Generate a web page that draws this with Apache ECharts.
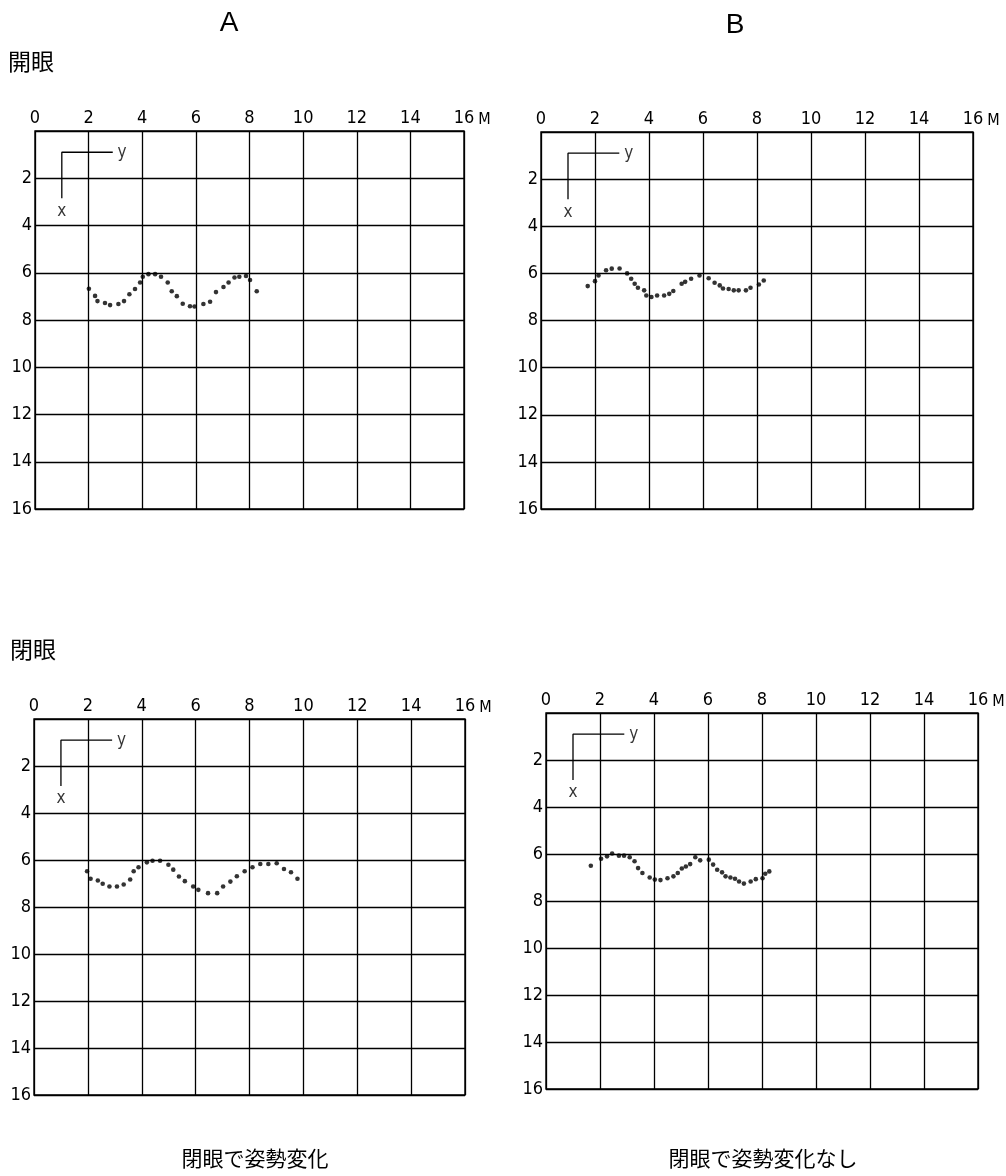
<!DOCTYPE html>
<html>
<head>
<meta charset="utf-8">
<script src="https://cdn.jsdelivr.net/npm/echarts@6/dist/echarts.min.js"></script>
<style>
  html, body { margin: 0; padding: 0; background: #fff; }
  #chart { width: 1006px; height: 1176px; }
</style>
</head>
<body>
<div id="chart"></div>
<script>
// distance axis ticks (M) and panel titles
const axisMin = 0;
const axisMax = 16;
const axisStep = 2;
const columnTitles = ['A', 'B'];
const rowTitles = ['開眼', '閉眼'];
const captions = ['閉眼で姿勢変化', '閉眼で姿勢変化なし'];

// traced dot paths [horizontal, vertical]
const aOpen = [[2.01,6.68],[2.24,6.98],[2.33,7.20],[2.61,7.28],[2.80,7.37],[3.11,7.32],[3.32,7.20],[3.52,6.91],[3.73,6.69],[3.92,6.41],[4.02,6.17],[4.23,6.06],[4.48,6.06],[4.70,6.17],[4.95,6.41],[5.10,6.78],[5.29,6.99],[5.51,7.31],[5.78,7.42],[5.95,7.43],[6.28,7.32],[6.53,7.23],[6.75,6.82],[7.03,6.60],[7.22,6.41],[7.44,6.20],[7.62,6.17],[7.87,6.14],[8.02,6.31],[8.27,6.78]];
const bOpen = [[1.73,6.54],[2.00,6.33],[2.13,6.09],[2.41,5.87],[2.62,5.80],[2.91,5.79],[3.19,6.00],[3.34,6.23],[3.47,6.44],[3.59,6.61],[3.82,6.72],[3.90,6.94],[4.09,7.00],[4.30,6.94],[4.56,6.94],[4.75,6.87],[4.90,6.75],[5.21,6.44],[5.34,6.36],[5.56,6.23],[5.87,6.09],[6.21,6.21],[6.43,6.40],[6.62,6.51],[6.74,6.64],[6.95,6.66],[7.14,6.72],[7.32,6.72],[7.59,6.72],[7.76,6.61],[8.07,6.47],[8.25,6.30]];
const aClosed = [[1.97,6.48],[2.10,6.80],[2.37,6.87],[2.55,7.01],[2.80,7.13],[3.08,7.13],[3.33,7.04],[3.57,6.83],[3.70,6.48],[3.88,6.31],[4.19,6.10],[4.40,6.03],[4.68,6.03],[4.99,6.20],[5.17,6.41],[5.38,6.70],[5.60,6.90],[5.91,7.13],[6.10,7.27],[6.46,7.41],[6.80,7.41],[7.02,7.13],[7.29,6.92],[7.53,6.69],[7.82,6.48],[8.11,6.31],[8.40,6.17],[8.70,6.17],[9.01,6.14],[9.28,6.38],[9.54,6.52],[9.78,6.80]];
const bClosed = [[1.66,6.50],[2.04,6.20],[2.26,6.10],[2.45,5.98],[2.70,6.07],[2.89,6.07],[3.10,6.14],[3.28,6.31],[3.41,6.60],[3.57,6.81],[3.84,7.00],[4.03,7.09],[4.24,7.11],[4.50,7.03],[4.72,6.95],[4.88,6.81],[5.03,6.62],[5.18,6.53],[5.34,6.43],[5.53,6.14],[5.71,6.27],[6.03,6.24],[6.19,6.45],[6.34,6.67],[6.52,6.78],[6.65,6.95],[6.83,7.00],[7.00,7.05],[7.15,7.17],[7.33,7.26],[7.58,7.17],[7.77,7.07],[8.02,7.03],[8.12,6.84],[8.27,6.74]];

// small "y / x" orientation key drawn in each panel (data units)
const keyPath = [[2.9,0.9],[1,0.9],[1,2.85]];
const keyLabels = [['y',3.25,0.9],['x',1,3.4]];

const panels = [aOpen, bOpen, aClosed, bClosed];
const gridBoxes = [
  { left: 35, top: 131, width: 429, height: 378 },
  { left: 541, top: 132, width: 432, height: 377 },
  { left: 34, top: 719, width: 431, height: 376 },
  { left: 546, top: 713, width: 432, height: 376 }
];

const ink = '#000';
const numFont = "'Liberation Sans Narrow', 'DejaVu Sans Condensed', sans-serif";
const cjkFont = "'Noto Sans CJK JP', sans-serif";

const chart = echarts.init(document.getElementById('chart'));

const grid = gridBoxes.map(b => Object.assign({
  show: true, borderColor: ink, borderWidth: 1.4, containLabel: false
}, b));

const xAxis = panels.map((_, i) => ({
  gridIndex: i, type: 'value', min: axisMin, max: axisMax, interval: axisStep,
  position: 'top',
  axisLine: { show: false }, axisTick: { show: false },
  splitLine: { show: true, lineStyle: { color: ink, width: 1.3 } },
  axisLabel: { margin: 4, color: ink, fontFamily: numFont, fontSize: 18 },
  name: 'M', nameLocation: 'end', nameGap: 10,
  nameTextStyle: { color: ink, fontFamily: numFont, fontSize: 16, verticalAlign: 'bottom', padding: [0, 0, 3, 0] }
}));

const yAxis = panels.map((_, i) => ({
  gridIndex: i, type: 'value', min: axisMin, max: axisMax, interval: axisStep,
  inverse: true,
  axisLine: { show: false }, axisTick: { show: false },
  splitLine: { show: true, lineStyle: { color: ink, width: 1.3 } },
  axisLabel: { margin: 3, color: ink, fontFamily: numFont, fontSize: 18,
    formatter: v => (v === 0 ? '' : String(v)) }
}));

const series = [];
panels.forEach((pts, i) => {
  series.push({
    type: 'scatter', xAxisIndex: i, yAxisIndex: i,
    data: pts, symbol: 'circle', symbolSize: 4.6,
    itemStyle: { color: ink }, silent: true
  });
  series.push({
    type: 'line', xAxisIndex: i, yAxisIndex: i,
    data: keyPath, symbol: 'none', silent: true,
    lineStyle: { color: ink, width: 1.3 }
  });
  series.push({
    type: 'scatter', xAxisIndex: i, yAxisIndex: i,
    data: keyLabels.map(k => ({ name: k[0], value: [k[1], k[2]] })),
    symbolSize: 0, silent: true,
    label: { show: true, position: 'inside', formatter: p => p.name,
      color: ink, fontFamily: numFont, fontSize: 17 }
  });
});

const graphic = [
  { type: 'text', x: 229, y: 23, style: { text: columnTitles[0], fill: ink, font: "28px 'Liberation Sans', sans-serif", textAlign: 'center', textVerticalAlign: 'middle' } },
  { type: 'text', x: 735, y: 25, style: { text: columnTitles[1], fill: ink, font: "28px 'Liberation Sans', sans-serif", textAlign: 'center', textVerticalAlign: 'middle' } },
  { type: 'text', x: 8, y: 61, style: { text: rowTitles[0], fill: ink, font: '23px ' + cjkFont, textAlign: 'left', textVerticalAlign: 'middle' } },
  { type: 'text', x: 10, y: 649, style: { text: rowTitles[1], fill: ink, font: '23px ' + cjkFont, textAlign: 'left', textVerticalAlign: 'middle' } },
  { type: 'text', x: 255, y: 1158, style: { text: captions[0], fill: ink, font: '21px ' + cjkFont, textAlign: 'center', textVerticalAlign: 'middle' } },
  { type: 'text', x: 763, y: 1158, style: { text: captions[1], fill: ink, font: '21px ' + cjkFont, textAlign: 'center', textVerticalAlign: 'middle' } }
];

chart.setOption({
  backgroundColor: '#fff',
  animation: false,
  grid, xAxis, yAxis, series, graphic
});
</script>
</body>
</html>
